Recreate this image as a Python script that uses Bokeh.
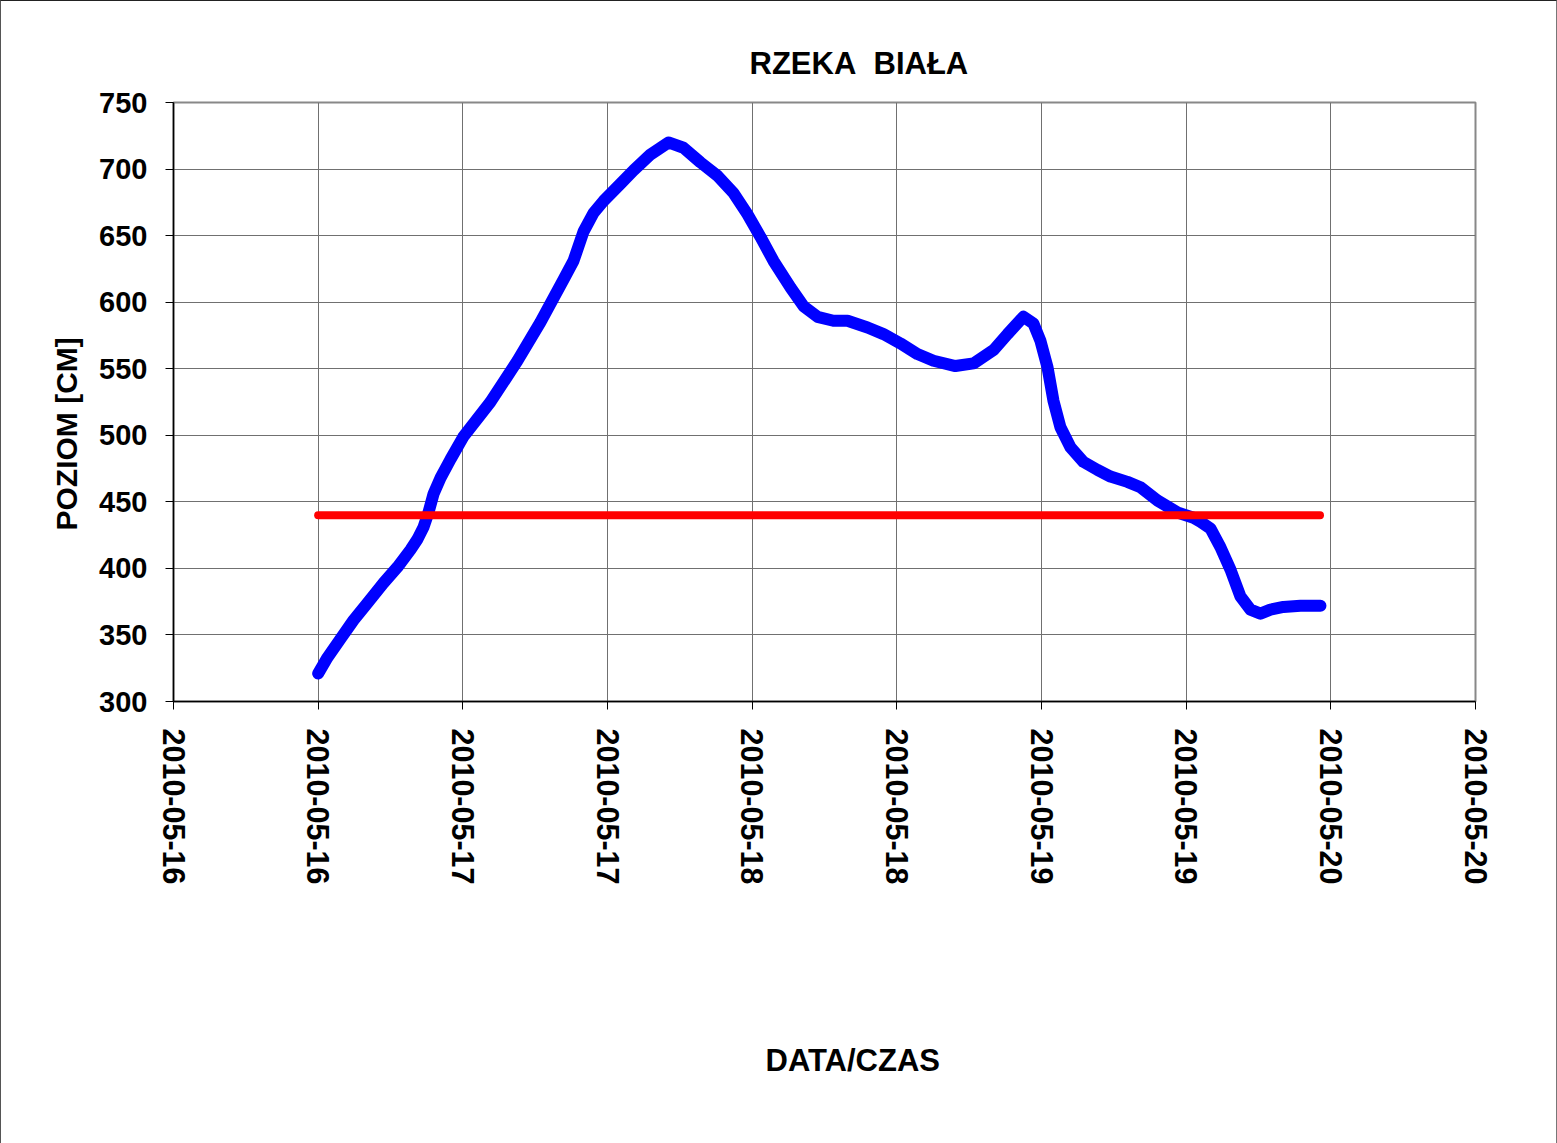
import math
from bokeh.plotting import figure
from bokeh.models import Range1d, FixedTicker, Title, ColumnDataSource
from bokeh.embed import file_html
from bokeh.resources import INLINE

# ---- data ----
tick_hours = [0, 12, 24, 36, 48, 60, 72, 84, 96, 108]
tick_labels = ["2010-05-16", "2010-05-16", "2010-05-17", "2010-05-17",
               "2010-05-18", "2010-05-18", "2010-05-19", "2010-05-19",
               "2010-05-20", "2010-05-20"]
y_ticks = [300, 350, 400, 450, 500, 550, 600, 650, 700, 750]

# hours since 2010-05-16 00:00
hours = [12.0, 12.77, 13.85, 14.93, 16.09, 17.42, 18.58, 19.66, 20.24, 20.74,
         21.15, 21.57, 22.15, 22.98, 24.05, 26.29, 28.53, 30.44, 32.35, 33.18,
         34.01, 34.84, 35.67, 37.08, 38.16, 39.57, 41.06, 42.30, 43.71, 45.12,
         46.45, 47.61, 48.69, 49.77, 51.18, 52.26, 53.42, 54.74, 55.91, 57.57,
         58.89, 60.30, 61.71, 63.04, 64.86, 66.36, 68.02, 69.18, 70.50, 71.33,
         71.91, 72.50, 72.99, 73.57, 74.40, 75.48, 76.64, 77.72, 79.13, 80.21,
         81.62, 83.28, 84.61, 85.19, 86.01, 86.84, 87.68, 88.50, 89.33, 90.16,
         90.99, 92.07, 93.48, 95.14]
level_cm = [321, 333, 347, 361, 374, 389, 401, 414, 422, 431,
            442, 456, 468, 482, 499, 525, 556, 585, 617, 631,
            653, 667, 676, 689, 699, 711, 720, 716, 705, 695,
            682, 666, 649, 631, 611, 597, 589, 586, 586, 581,
            576, 569, 561, 556, 552, 554, 564, 576, 589, 584,
            571, 551, 526, 506, 491, 480, 474, 469, 465, 461,
            451, 442, 438, 435, 430, 416, 399, 379, 369, 366,
            369, 371, 372, 372]
alarm_hours = [12.0, 95.1]
alarm_level = [440, 440]

title_text = "RZEKA\u00a0 BIAŁA"
x_title = "DATA/CZAS"
y_title = "POZIOM [CM]"

FONT = "Liberation Sans"

p = figure(frame_width=1302, frame_height=599,
           min_border_left=172, min_border_right=81,
           min_border_top=101, min_border_bottom=442,
           x_range=Range1d(0, 108), y_range=Range1d(300, 750),
           output_backend="svg", toolbar_location=None,
           background_fill_color="white", border_fill_color="white")
p.styles = {"border-top": "1px solid #222", "border-left": "1px solid #555",
            "border-right": "1px solid #777"}

p.outline_line_color = "#888888"
p.outline_line_width = 2

# main title
p.title.text = title_text
p.title.align = "left"
p.title.offset = 576
p.title.standoff = 43
p.title.text_font = FONT
p.title.text_font_size = "31px"
p.title.text_font_style = "bold"
p.title.text_color = "black"

# axes
for ax in (p.xaxis, p.yaxis):
    ax.axis_line_color = "black"
    ax.axis_line_width = 1.5
    ax.major_tick_line_color = "black"
    ax.major_tick_out = 8
    ax.major_tick_in = 0
    ax.minor_tick_line_color = None
    ax.major_label_text_font = FONT
    ax.major_label_text_font_style = "bold"
    ax.major_label_text_color = "black"

p.xaxis.ticker = FixedTicker(ticks=tick_hours)
p.xaxis.major_label_overrides = {h: lab for h, lab in zip(tick_hours, tick_labels)}
p.xaxis.major_label_orientation = -math.pi / 2
p.xaxis.major_label_standoff = 19
p.xaxis.major_label_text_font_size = "30.5px"
p.yaxis.ticker = FixedTicker(ticks=y_ticks)
p.yaxis.major_label_standoff = 18
p.yaxis.major_label_text_font_size = "29px"

p.xgrid.ticker = FixedTicker(ticks=tick_hours)
p.ygrid.ticker = FixedTicker(ticks=y_ticks)
for g in (p.xgrid, p.ygrid):
    g.grid_line_color = "#707070"
    g.grid_line_width = 1

ylab = Title(text=y_title, align="left", offset=171, standoff=28,
             text_font=FONT, text_font_size="30px", text_font_style="bold",
             text_color="black")
p.add_layout(ylab, "left")

xlab = Title(text=x_title, align="left", offset=592, standoff=10,
             vertical_align="top",
             padding=dict(left=0, right=0, top=150, bottom=0),
             text_font=FONT, text_font_size="31px", text_font_style="bold",
             text_color="black")
p.add_layout(xlab, "below")

src = ColumnDataSource(dict(h=hours, v=level_cm))
p.line("h", "v", source=src, line_color="#0000FF", line_width=12,
       line_join="round", line_cap="round")
p.line(alarm_hours, alarm_level, line_color="#FF0000", line_width=8,
       line_cap="round")

open("out.html", "w").write(file_html(p, INLINE))
